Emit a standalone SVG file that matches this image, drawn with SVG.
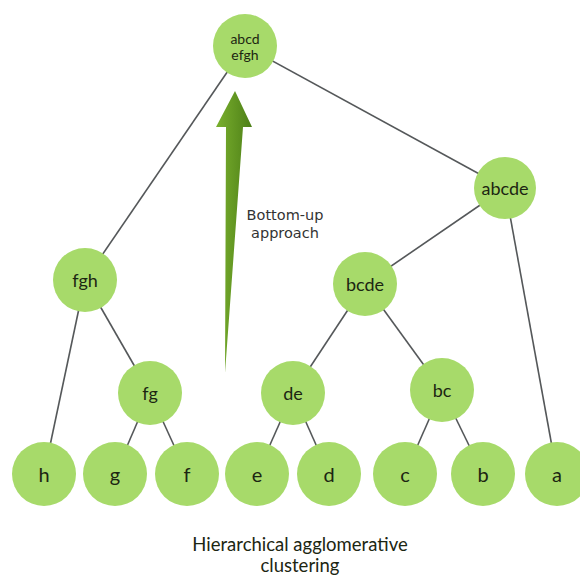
<svg xmlns="http://www.w3.org/2000/svg" width="580" height="575" viewBox="0 0 580 575">
<style>
.n{fill:#a7da6a}
.t{font-family:Lato,"Liberation Sans",sans-serif;fill:#1c2612;text-anchor:middle;dominant-baseline:central}
.l{font-size:20px}
.m{font-size:18px}
.e{stroke:#55585a;stroke-width:1.6;fill:none}
</style>
<defs>
<linearGradient id="ag" x1="0" y1="0" x2="1" y2="0">
<stop offset="0" stop-color="#7ab02e"/>
<stop offset="1" stop-color="#4d7f17"/>
</linearGradient>
</defs>
<rect width="580" height="575" fill="#fff"/>
<g id="connectors">
<line class="e" x1="245" y1="46" x2="85" y2="280"/>
<line class="e" x1="245" y1="46" x2="505" y2="188"/>
<line class="e" x1="505" y1="188" x2="365" y2="284"/>
<line class="e" x1="505" y1="188" x2="557" y2="474"/>
<line class="e" x1="85" y1="280" x2="44" y2="474"/>
<line class="e" x1="85" y1="280" x2="150" y2="393"/>
<line class="e" x1="150" y1="393" x2="115" y2="474"/>
<line class="e" x1="150" y1="393" x2="187" y2="474"/>
<line class="e" x1="365" y1="284" x2="293" y2="393"/>
<line class="e" x1="365" y1="284" x2="442" y2="390"/>
<line class="e" x1="293" y1="393" x2="257" y2="474"/>
<line class="e" x1="293" y1="393" x2="329" y2="474"/>
<line class="e" x1="442" y1="390" x2="405" y2="474"/>
<line class="e" x1="442" y1="390" x2="483" y2="474"/>
</g>
<g id="arrow">
<path d="M225 373 L226 127 L216 127 L235 91 L252 127 L243 127 Z" fill="url(#ag)"/>
<text x="285" y="215" font-family="'DejaVu Sans',sans-serif" font-size="14.5" fill="#333" text-anchor="middle" dominant-baseline="central">Bottom-up</text>
<text x="285" y="233" font-family="'DejaVu Sans',sans-serif" font-size="14.5" fill="#333" text-anchor="middle" dominant-baseline="central">approach</text>
</g>
<g id="abcdefgh"><circle class="n" cx="245" cy="46" r="32"/><text class="t" x="245" y="38" font-size="14">abcd</text><text class="t" x="245" y="54" font-size="14">efgh</text></g>
<g id="abcde"><circle class="n" cx="505" cy="188" r="31"/><text class="t m" x="505" y="188">abcde</text></g>
<g id="fgh"><circle class="n" cx="85" cy="280" r="32"/><text class="t m" x="85" y="280">fgh</text></g>
<g id="bcde"><circle class="n" cx="365" cy="284" r="32"/><text class="t m" x="365" y="284">bcde</text></g>
<g id="fg"><circle class="n" cx="150" cy="393" r="32"/><text class="t m" x="150" y="393">fg</text></g>
<g id="de"><circle class="n" cx="293" cy="393" r="32"/><text class="t m" x="293" y="393">de</text></g>
<g id="bc"><circle class="n" cx="442" cy="390" r="32"/><text class="t m" x="442" y="390">bc</text></g>
<g id="h"><circle class="n" cx="44" cy="474" r="32"/><text class="t l" x="44" y="474">h</text></g>
<g id="g"><circle class="n" cx="115" cy="474" r="32"/><text class="t l" x="115" y="474">g</text></g>
<g id="f"><circle class="n" cx="187" cy="474" r="32"/><text class="t l" x="187" y="474">f</text></g>
<g id="e"><circle class="n" cx="257" cy="474" r="32"/><text class="t l" x="257" y="474">e</text></g>
<g id="d"><circle class="n" cx="329" cy="474" r="32"/><text class="t l" x="329" y="474">d</text></g>
<g id="c"><circle class="n" cx="405" cy="474" r="32"/><text class="t l" x="405" y="474">c</text></g>
<g id="b"><circle class="n" cx="483" cy="474" r="32"/><text class="t l" x="483" y="474">b</text></g>
<g id="a"><circle class="n" cx="557" cy="474" r="32"/><text class="t l" x="557" y="474">a</text></g>
<g id="caption">
<text class="t" x="300" y="544" font-size="18.5" fill="#222">Hierarchical agglomerative</text>
<text class="t" x="300" y="565" font-size="18.5" fill="#222">clustering</text>
</g>
</svg>
